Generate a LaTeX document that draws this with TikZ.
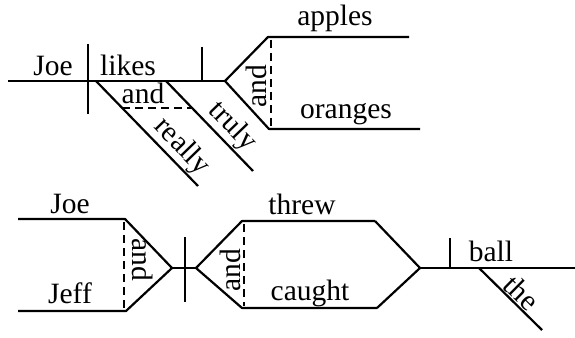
\documentclass[tikz,border=0pt]{standalone}
\usepackage{fontspec}
\setmainfont{Liberation Serif}
\begin{document}
\begin{tikzpicture}[x=1pt,y=-1pt,
  rule/.style={line width=2.2pt, line join=round},
  link/.style={line width=1.7pt, dash pattern=on 8pt off 5pt},
  word/.style={font=\fontsize{29.5}{29.5}\selectfont, inner sep=0pt, anchor=base},
  slant/.style={font=\fontsize{29.5}{29.5}\selectfont, inner sep=1pt, sloped, above},
]
\useasboundingbox (0,0) rectangle (575,337);

% ---------- Joe likes really and truly apples and oranges ----------
\coordinate (s1) at (8,81);
\coordinate (fork) at (225,81);
\coordinate (sbtop) at (88,44);
\coordinate (sbbot) at (88,114);
\coordinate (vbtop) at (202,47);
\coordinate (vbbot) at (202,81);
\coordinate (ap0) at (268,37);
\coordinate (ap1) at (409,37);
\coordinate (or0) at (269,129);
\coordinate (or1) at (420,129);
\coordinate (cjtop) at (271,40);
\coordinate (cjbot) at (271,127);
\coordinate (r0) at (96,81);
\coordinate (r1) at (198,186);
\coordinate (t0) at (166,81);
\coordinate (t1) at (253,171);
\coordinate (aj0) at (122,108);
\coordinate (aj1) at (192,108);

\draw[rule] (s1) -- (fork);
\draw[rule] (sbtop) -- (sbbot);
\draw[rule] (vbtop) -- (vbbot);
\draw[rule] (ap1) -- (ap0) -- (fork) -- (or0) -- (or1);
\draw[link] (cjtop) -- (cjbot);
\draw[rule] (r0) -- (r1) node[slant, pos=0.73] (really) {really};
\draw[rule] (t0) -- (t1) node[slant, pos=0.63] (truly) {truly};
\draw[link] (aj0) -- (aj1);

\node[word] (joeA) at (53,75) {Joe};
\node[word] (likes) at (128,75) {likes};
\node[word] (apples) at (335,26) {apples};
\node[word] (oranges) at (346,118) {oranges};
\node[word] (andA) at (143,103) {and};
\node[word, rotate=90] (andB) at (266,86) {and};

% ---------- Joe and Jeff threw and caught the ball ----------
\coordinate (jo0) at (18,219);
\coordinate (jo1) at (125,219);
\coordinate (je0) at (18,311);
\coordinate (je1) at (126,311);
\coordinate (m0) at (172,268);
\coordinate (m1) at (196,268);
\coordinate (bartop) at (185,237);
\coordinate (barbot) at (185,302);
\coordinate (tw0) at (242,221);
\coordinate (tw1) at (375,221);
\coordinate (ca0) at (242,308);
\coordinate (ca1) at (377,308);
\coordinate (m2) at (420,268);
\coordinate (m3) at (575,268);
\coordinate (vctop) at (450,238);
\coordinate (vcbot) at (450,268);
\coordinate (th0) at (479,268);
\coordinate (th1) at (542,330);
\coordinate (jdtop) at (124,222);
\coordinate (jdbot) at (124,309);
\coordinate (cdtop) at (244,224);
\coordinate (cdbot) at (244,306);

\draw[rule] (jo0) -- (jo1) -- (m0) -- (je1) -- (je0);
\draw[rule] (m0) -- (m1);
\draw[rule] (bartop) -- (barbot);
\draw[rule] (tw1) -- (tw0) -- (m1) -- (ca0) -- (ca1);
\draw[rule] (tw1) -- (m2) -- (ca1);
\draw[rule] (m2) -- (m3);
\draw[rule] (vctop) -- (vcbot);
\draw[rule] (th0) -- (th1) node[slant, pos=0.54] (the) {the};
\draw[link] (jdtop) -- (jdbot);
\draw[link] (cdtop) -- (cdbot);

\node[word] (joeB) at (70,213) {Joe};
\node[word] (jeff) at (70,303) {Jeff};
\node[word] (threw) at (302,214) {threw};
\node[word] (caught) at (310,300) {caught};
\node[word] (ball) at (491,261) {ball};
\node[word, rotate=-90] (andC) at (132,260) {and};
\node[word, rotate=90] (andD) at (240,270) {and};
\end{tikzpicture}
\end{document}
